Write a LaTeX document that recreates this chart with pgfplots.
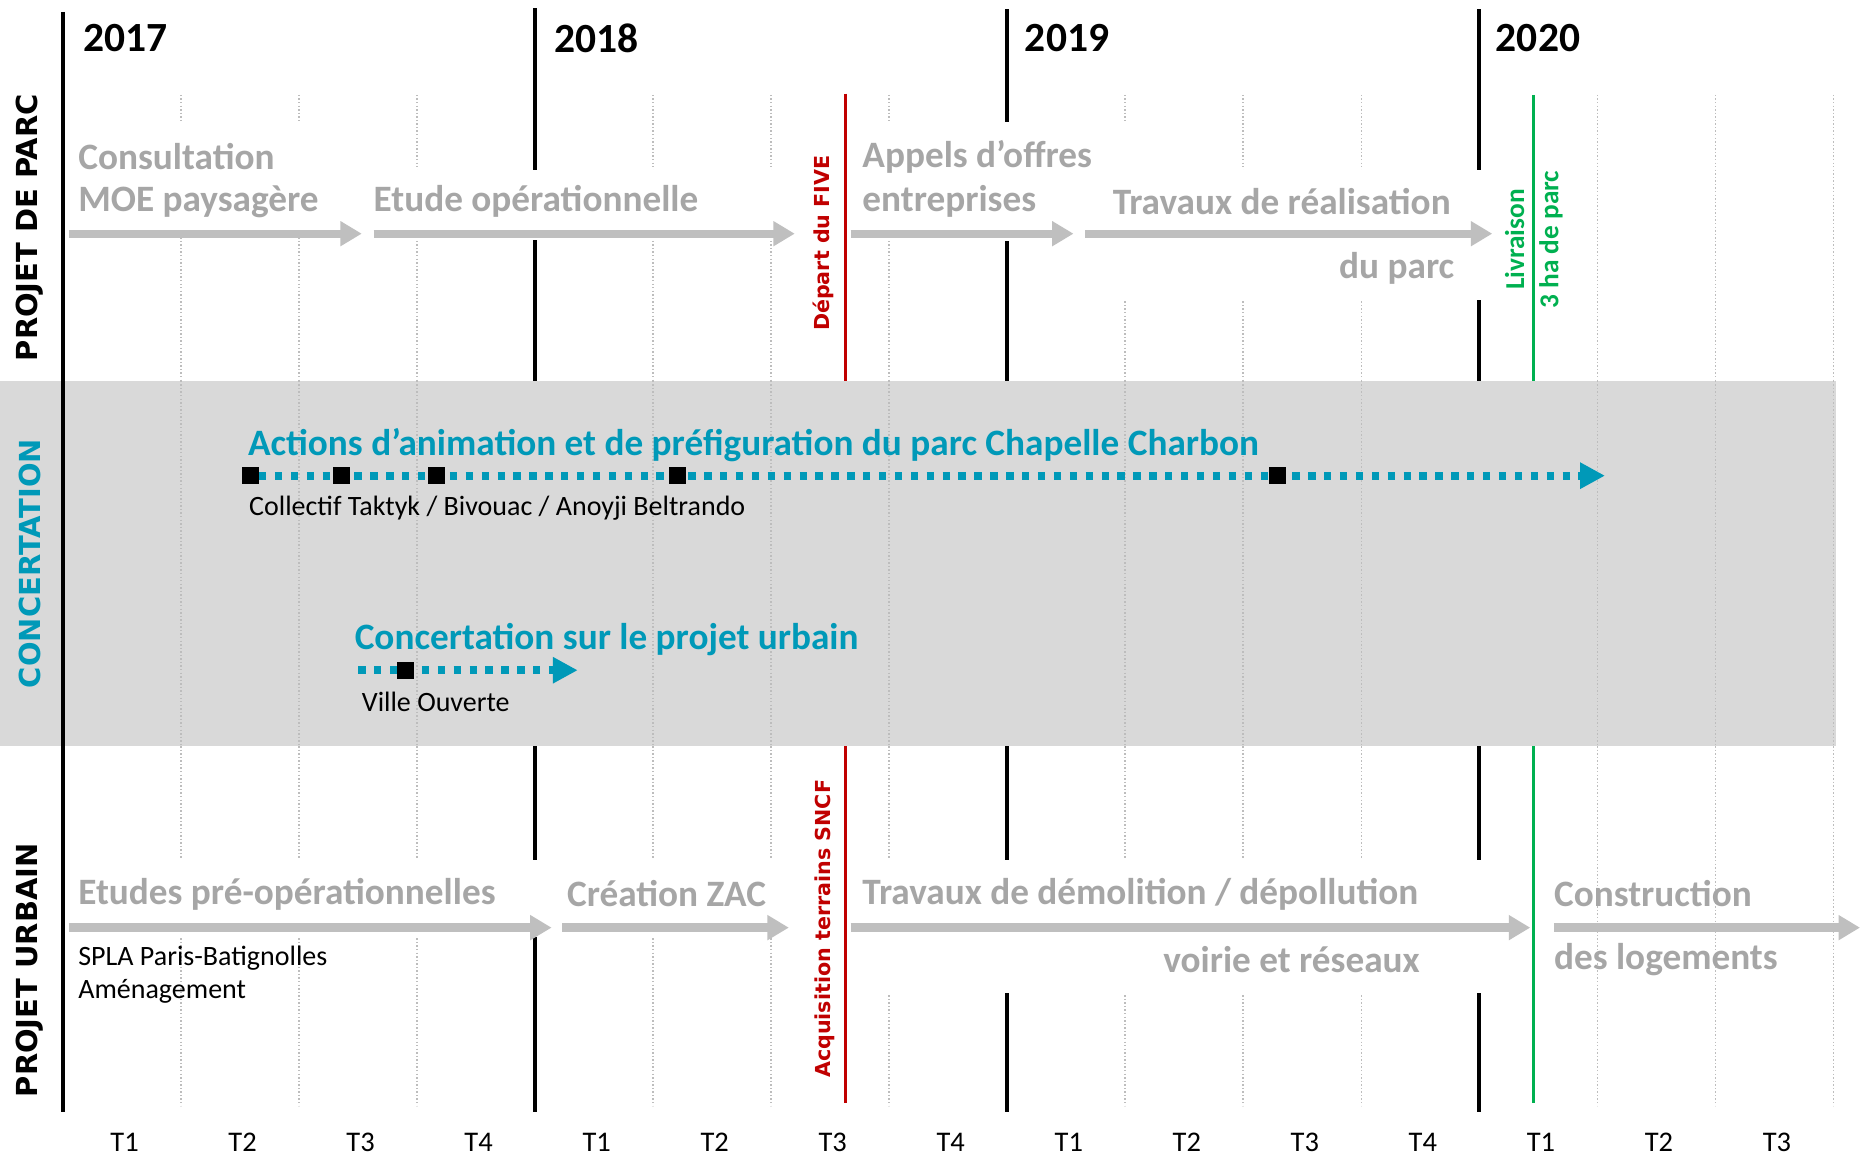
\documentclass[border=0pt]{standalone}
\usepackage{pgfplots}
\pgfplotsset{compat=1.18}
\usetikzlibrary{arrows.meta}
\usepackage{fontspec}
\setmainfont{Carlito}
\newfontfamily\wide{DejaVu Sans}
\definecolor{txtgray}{HTML}{A6A6A6}
\definecolor{arrgray}{HTML}{BFBFBF}
\definecolor{bandgray}{HTML}{D9D9D9}
\definecolor{gridgray}{HTML}{BDBDBD}
\definecolor{cblue}{HTML}{0099B8}
\definecolor{cred}{HTML}{C00000}
\definecolor{cgreen}{HTML}{00B050}
\begin{document}
\begin{tikzpicture}
\begin{axis}[width=784pt,height=487.5pt,scale only axis,
  xmin=0,xmax=1568,ymin=0,ymax=975,y dir=reverse,
  hide axis,clip=false,unbounded coords=jump]

% quarter grid (dotted)
\addplot[gridgray,line width=0.6pt,dash pattern=on 0.6pt off 0.9pt] coordinates {
(152.5,80)(152.5,932)(nan,nan)(252,80)(252,932)(nan,nan)(351.5,80)(351.5,932)(nan,nan)
(550.5,80)(550.5,932)(nan,nan)(650,80)(650,932)(nan,nan)(749.5,80)(749.5,932)(nan,nan)
(948.5,80)(948.5,932)(nan,nan)(1048,80)(1048,932)(nan,nan)(1147.5,80)(1147.5,932)(nan,nan)
(1346.5,80)(1346.5,932)(nan,nan)(1446,80)(1446,932)(nan,nan)(1545.5,80)(1545.5,932)};

% year lines
\addplot[black,line width=1.8pt] coordinates {
(451,7)(451,937)(nan,nan)(849,8)(849,937)(nan,nan)(1247,8)(1247,937)};

% white boxes behind texts
\addplot[fill=white,draw=none] coordinates {(56,103)(300,103)(300,193)(56,193)} --cycle;
\addplot[fill=white,draw=none] coordinates {(310,143)(672,143)(672,202)(310,202)} --cycle;
\addplot[fill=white,draw=none] coordinates {(716,103)(955,103)(955,203)(716,203)} --cycle;
\addplot[fill=white,draw=none] coordinates {(910,143)(1252,143)(1252,253)(910,253)} --cycle;
\addplot[fill=white,draw=none] coordinates {(56,725)(470,725)(470,790)(56,790)} --cycle;
\addplot[fill=white,draw=none] coordinates {(472,725)(668,725)(668,790)(472,790)} --cycle;
\addplot[fill=white,draw=none] coordinates {(716,725)(1292,725)(1292,837)(716,837)} --cycle;

% band
\addplot[fill=bandgray,draw=none] coordinates {(0,321)(1548,321)(1548,629)(0,629)} --cycle;
\addplot[gridgray,line width=0.6pt,dash pattern=on 0.6pt off 0.9pt] coordinates {
(152.5,321)(152.5,629)(nan,nan)(252,321)(252,629)(nan,nan)(351.5,321)(351.5,629)(nan,nan)
(550.5,321)(550.5,629)(nan,nan)(650,321)(650,629)(nan,nan)(749.5,321)(749.5,629)(nan,nan)
(948.5,321)(948.5,629)(nan,nan)(1048,321)(1048,629)(nan,nan)(1147.5,321)(1147.5,629)(nan,nan)
(1346.5,321)(1346.5,629)(nan,nan)(1446,321)(1446,629)(nan,nan)(1545.5,321)(1545.5,629)};

% 2017 axis line
\addplot[black,line width=1.8pt] coordinates {(53,10)(53,937)};

% red and green milestones
\addplot[cred,line width=1.3pt] coordinates {(713,79)(713,321)(nan,nan)(713,629)(713,930)};
\addplot[cgreen,line width=1.3pt] coordinates {(1293,80)(1293,321)(nan,nan)(1293,629)(1293,930)};

% gray arrows
\addplot[arrgray,line width=3.5pt,-{Triangle[length=9pt,width=10pt]}] coordinates {(58,197)(305,197)};
\addplot[arrgray,line width=3.5pt,-{Triangle[length=9pt,width=10pt]}] coordinates {(315,197)(670,197)};
\addplot[arrgray,line width=3.5pt,-{Triangle[length=9pt,width=10pt]}] coordinates {(717,197)(905,197)};
\addplot[arrgray,line width=3.5pt,-{Triangle[length=9pt,width=10pt]}] coordinates {(915,197)(1258,197)};
\addplot[arrgray,line width=3.5pt,-{Triangle[length=9pt,width=10pt]}] coordinates {(58,782)(465,782)};
\addplot[arrgray,line width=3.5pt,-{Triangle[length=9pt,width=10pt]}] coordinates {(474,782)(665,782)};
\addplot[arrgray,line width=3.5pt,-{Triangle[length=9pt,width=10pt]}] coordinates {(717,782)(1290,782)};
\addplot[arrgray,line width=3.5pt,-{Triangle[length=9pt,width=10pt]}] coordinates {(1310,782)(1568,782)};

% blue dotted arrows
\addplot[cblue,line width=3.3pt,dash pattern=on 3.1pt off 3.6pt,-{Triangle[length=10.5pt,width=10.5pt]}] coordinates {(205,401)(1353,401)};
\addplot[cblue,line width=3.3pt,dash pattern=on 3.1pt off 3.6pt,-{Triangle[length=10.5pt,width=10.5pt]}] coordinates {(302,565)(487,565)};
\addplot[only marks,mark=square*,mark size=3.3pt,black,mark options={rounded corners=0.8pt}] coordinates {(211,401)(288,401)(368,401)(571,401)(1077,401)};
\addplot[only marks,mark=square*,mark size=3.3pt,black,mark options={rounded corners=0.8pt}] coordinates {(342,565)};

% years
\tikzset{yr/.style={anchor=west,font=\bfseries\fontsize{17.5}{20}\selectfont}}
\node[yr] at (axis cs:63,32) {2017};
\node[yr] at (axis cs:460,32) {2018};
\node[yr] at (axis cs:857,32) {2019};
\node[yr] at (axis cs:1254,32) {2020};

% section labels
\tikzset{sec/.style={rotate=90,font=\wide\bfseries\fontsize{12.2}{14}\selectfont}}
\node[sec] at (axis cs:25,192) {PROJET DE PARC};
\node[sec,text=cblue] at (axis cs:25,475) {CONCERTATION};
\node[sec] at (axis cs:25,818) {PROJET URBAIN};

% gray phase labels
\tikzset{gt/.style={anchor=west,text=txtgray,font=\bfseries\fontsize{15.7}{18}\selectfont},
         gr/.style={anchor=east,text=txtgray,font=\bfseries\fontsize{15.7}{18}\selectfont}}
\node[gt] at (axis cs:59,132) {Consultation};
\node[gt] at (axis cs:59,170) {MOE paysagère};
\node[gt] at (axis cs:308,170) {Etude opérationnelle};
\node[gt] at (axis cs:720,132) {Appels d’offres};
\node[gt] at (axis cs:720,170) {entreprises};
\node[gt] at (axis cs:931,170) {Travaux de réalisation};
\node[gr] at (axis cs:1233,226) {du parc};
\node[gt] at (axis cs:59,754) {Etudes pré-opérationnelles};
\node[gt] at (axis cs:471,753) {Création ZAC};
\node[gt] at (axis cs:720,754) {Travaux de démolition / dépollution};
\node[gr] at (axis cs:1204,809) {voirie et réseaux};
\node[gt] at (axis cs:1303,753) {Construction};
\node[gt] at (axis cs:1303,809) {des logements};

% black notes
\tikzset{bt/.style={anchor=west,font=\fontsize{11.8}{14}\selectfont}}
\node[bt] at (axis cs:203,428) {Collectif Taktyk / Bivouac / Anoyji Beltrando};
\node[bt] at (axis cs:298,592) {Ville Ouverte};
\node[bt] at (axis cs:59,808) {SPLA Paris-Batignolles};
\node[bt] at (axis cs:59,836) {Aménagement};

% blue titles
\tikzset{bl/.style={anchor=west,text=cblue,font=\bfseries\fontsize{15.7}{18}\selectfont}}
\node[bl] at (axis cs:202,375) {Actions d’animation et de préfiguration du parc Chapelle Charbon};
\node[bl] at (axis cs:292,539) {Concertation sur le projet urbain};

% milestone labels
\node[rotate=90,text=cred,font=\wide\bfseries\fontsize{8.7}{10}\selectfont] at (axis cs:694,205) {Départ du FIVE};
\node[rotate=90,text=cred,font=\wide\bfseries\fontsize{8.7}{10}\selectfont] at (axis cs:695,783) {Acquisition terrains SNCF};
\node[rotate=90,align=center,text=cgreen,font=\bfseries\fontsize{11.5}{14.5}\selectfont] at (axis cs:1293,202) {Livraison\\3 ha de parc};

% quarter labels
\tikzset{ql/.style={font=\fontsize{12}{14}\selectfont}}
\node[ql] at (axis cs:105,963) {T1};
\node[ql] at (axis cs:204.5,963) {T2};
\node[ql] at (axis cs:304,963) {T3};
\node[ql] at (axis cs:403.5,963) {T4};
\node[ql] at (axis cs:503,963) {T1};
\node[ql] at (axis cs:602.5,963) {T2};
\node[ql] at (axis cs:702,963) {T3};
\node[ql] at (axis cs:801.5,963) {T4};
\node[ql] at (axis cs:901,963) {T1};
\node[ql] at (axis cs:1000.5,963) {T2};
\node[ql] at (axis cs:1100,963) {T3};
\node[ql] at (axis cs:1199.5,963) {T4};
\node[ql] at (axis cs:1299,963) {T1};
\node[ql] at (axis cs:1398.5,963) {T2};
\node[ql] at (axis cs:1498,963) {T3};
\end{axis}
\pgfresetboundingbox
\useasboundingbox (current axis.south west) rectangle (current axis.north east);
\end{tikzpicture}
\end{document}
